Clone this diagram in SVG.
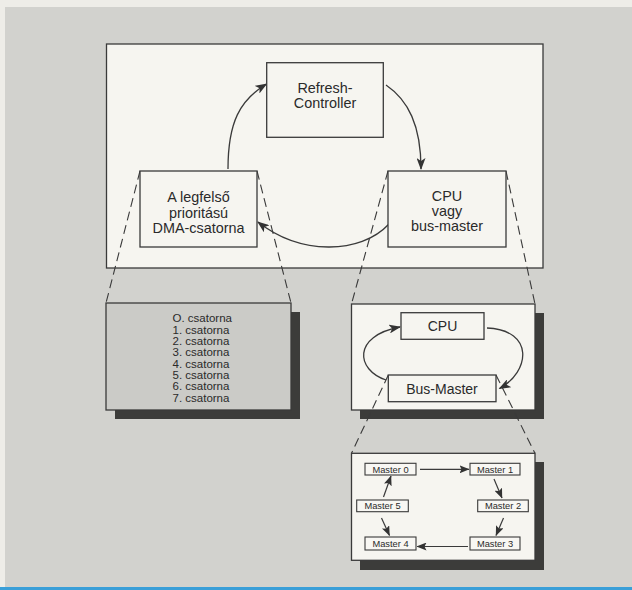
<svg xmlns="http://www.w3.org/2000/svg" width="632" height="590" viewBox="0 0 632 590">
<style>
text{font-family:"Liberation Sans",Arial,sans-serif;fill:#2a2a2a;}
.box{fill:#f6f5f0;stroke:#3a3a3a;stroke-width:1.3;}
.sm{fill:#f8f7f3;stroke:#3a3a3a;stroke-width:1.1;}
.shadow{fill:#3c3c3a;}
.big{font-size:14.4px;text-anchor:middle;}
.lst{font-size:11.5px;}
.ms{font-size:9.3px;text-anchor:middle;}
.arc{fill:none;stroke:#3a3a3a;stroke-width:1.3;}
.ln{fill:none;stroke:#3a3a3a;stroke-width:1.2;}
.dash{fill:none;stroke:#3a3a3a;stroke-width:1.1;stroke-dasharray:9 5;}
</style>
<defs>
<marker id="ah" viewBox="0 0 12 9" refX="11" refY="4.5" markerWidth="12" markerHeight="9" markerUnits="userSpaceOnUse" orient="auto">
<path d="M0,0 L12,4.5 L0,9 L3,4.5 z" fill="#333"/>
</marker>
<marker id="ahs" viewBox="0 0 10 8" refX="9.5" refY="4" markerWidth="10" markerHeight="8" markerUnits="userSpaceOnUse" orient="auto">
<path d="M0,0 L10,4 L0,8 L2,4 z" fill="#333"/>
</marker>
</defs>
<rect x="0" y="0" width="632" height="590" fill="#eeede8"/>
<rect x="5" y="7" width="627" height="580" fill="#d2d2ce"/>
<rect x="0" y="587" width="632" height="3" fill="#3a9fd8"/>

<g id="main-frame"><rect class="box" x="106.5" y="44" width="436.5" height="224"/></g>

<g id="channel-list">
<rect class="shadow" x="115" y="312" width="185" height="107"/>
<rect x="106" y="303" width="185" height="107" fill="#cbcbc7" stroke="#3a3a3a" stroke-width="1.3"/>
<text class="lst" x="172.5" y="322.3">O. csatorna</text>
<text class="lst" x="172.5" y="333.6">1. csatorna</text>
<text class="lst" x="172.5" y="345">2. csatorna</text>
<text class="lst" x="172.5" y="356.3">3. csatorna</text>
<text class="lst" x="172.5" y="367.7">4. csatorna</text>
<text class="lst" x="172.5" y="379">5. csatorna</text>
<text class="lst" x="172.5" y="390.4">6. csatorna</text>
<text class="lst" x="172.5" y="401.7">7. csatorna</text>
</g>

<g id="cpu-busmaster-detail">
<rect class="shadow" x="360" y="313" width="184" height="106"/>
<rect class="box" x="351.5" y="304" width="183.5" height="106"/>
</g>

<g id="master-ring-detail">
<rect class="shadow" x="360" y="462" width="184" height="108"/>
<rect class="box" x="351.5" y="453.3" width="183.5" height="107"/>
</g>

<g id="connectors">
<path class="arc" d="M228,169 C228,122 240,100 266.5,84" marker-end="url(#ah)"/>
<path class="arc" d="M386,85 C408,100 421,125 421,169" marker-end="url(#ah)"/>
<path class="arc" d="M389,224 C360,255 300,255 258,222" marker-end="url(#ah)"/>
<path class="dash" d="M140,171 L106,303"/>
<path class="dash" d="M257,171 L291,303"/>
<path class="dash" d="M388,171 L351.5,304"/>
<path class="dash" d="M506,171 L535,304"/>
<path class="arc" d="M386,380 C356,370 352,336 400,327" marker-end="url(#ah)"/>
<path class="arc" d="M487,328 C535,330 530,372 499.5,388.5" marker-end="url(#ah)"/>
<path class="dash" d="M388.3,375 L351.5,453.3"/>
<path class="dash" d="M496,375 L535,453.3"/>
<path class="ln" d="M420,469.3 L469,469.3" marker-end="url(#ahs)"/>
<path class="ln" d="M494,479 L502,498" marker-end="url(#ahs)"/>
<path class="ln" d="M503.5,518 L496,535.5" marker-end="url(#ahs)"/>
<path class="ln" d="M468,546.5 L417,546.5" marker-end="url(#ahs)"/>
<path class="ln" d="M381.5,518 L389.5,535.5" marker-end="url(#ahs)"/>
<path class="ln" d="M383.5,497 L391,476" marker-end="url(#ahs)"/>
</g>

<g id="refresh-controller">
<rect class="box" x="266.7" y="62.7" width="116.6" height="74.6"/>
<text class="big" x="325" y="93">Refresh-</text>
<text class="big" x="325" y="108">Controller</text>
</g>

<g id="dma-channel">
<rect class="box" x="140" y="171" width="117" height="76"/>
<text class="big" x="198.5" y="202">A legfelső</text>
<text class="big" x="198.5" y="217.5">prioritású</text>
<text class="big" x="198.5" y="233">DMA-csatorna</text>
</g>

<g id="cpu-or-busmaster">
<rect class="box" x="388" y="171" width="118" height="76"/>
<text class="big" x="447" y="200.5">CPU</text>
<text class="big" x="447" y="215.5">vagy</text>
<text class="big" x="447" y="230.5">bus-master</text>
</g>

<g id="cpu">
<rect class="box" x="401" y="312.7" width="83" height="26.6"/>
<text class="big" x="442.5" y="331" style="font-size:14px">CPU</text>
</g>

<g id="bus-master">
<rect class="box" x="388.3" y="375" width="107.7" height="26.7"/>
<text class="big" x="442" y="393.5" style="font-size:14px">Bus-Master</text>
</g>

<g id="master0"><rect class="sm" x="365" y="463.3" width="51" height="11.7"/><text class="ms" x="390.5" y="472.6">Master 0</text></g>
<g id="master1"><rect class="sm" x="470" y="463.3" width="50" height="11.7"/><text class="ms" x="495" y="472.6">Master 1</text></g>
<g id="master2"><rect class="sm" x="477.7" y="500" width="50.6" height="11.7"/><text class="ms" x="503" y="509.3">Master 2</text></g>
<g id="master3"><rect class="sm" x="470" y="537" width="50" height="13"/><text class="ms" x="495" y="546.8">Master 3</text></g>
<g id="master4"><rect class="sm" x="365" y="537" width="51" height="13"/><text class="ms" x="390.5" y="546.8">Master 4</text></g>
<g id="master5"><rect class="sm" x="356.7" y="500" width="51.6" height="11.7"/><text class="ms" x="382.5" y="509.3">Master 5</text></g>
</svg>
